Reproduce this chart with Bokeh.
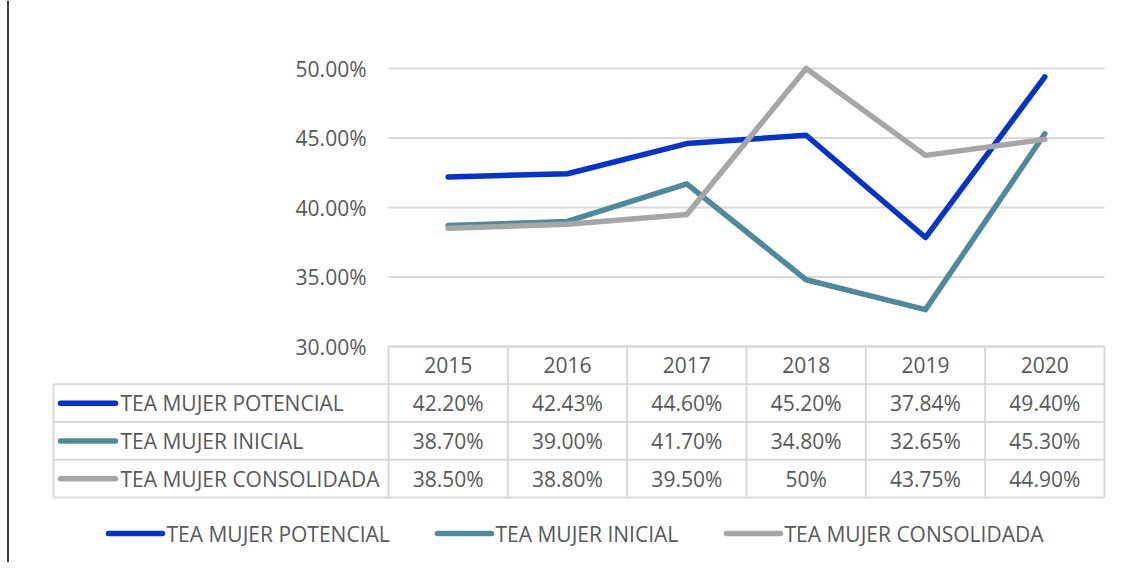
from bokeh.plotting import figure
from bokeh.models import Range1d
from bokeh.embed import file_html
from bokeh.resources import INLINE
from bokeh.core.properties import value

# ---------------- data ----------------
years = ["2015", "2016", "2017", "2018", "2019", "2020"]
series_names = ["TEA MUJER POTENCIAL", "TEA MUJER INICIAL", "TEA MUJER CONSOLIDADA"]
potencial = [42.20, 42.43, 44.60, 45.20, 37.84, 49.40]
inicial = [38.70, 39.00, 41.70, 34.80, 32.65, 45.30]
consolidada = [38.50, 38.80, 39.50, 50.0, 43.75, 44.90]
# cells written without decimals in the source table: (series index, year index)
integer_cells = [(2, 3)]
y_ticks = [30, 35, 40, 45, 50]
colors = ["#0433CC", "#4E8A9A", "#A6A6A6"]
series = [potencial, inicial, consolidada]

TEXT = "#595959"
GRID = "#D9D9D9"
FONT = value("Open Sans")
FS = "21px"

# ---------------- geometry helpers (screen px -> data units) ----------------
W, H = 1120, 562
X0_PX, COL_PX = 388.0, 119.33
Y30_PX, PCT_PX = 346.0, 13.9


def xi(px):
    return (px - X0_PX) / COL_PX - 0.5


def yp(py):
    return 30 - (py - Y30_PX) / PCT_PX


def fmt(si, yi, v):
    return f"{v:.0f}%" if (si, yi) in integer_cells else f"{v:.2f}%"


p = figure(width=W, height=H,
           x_range=Range1d(xi(0), xi(W)), y_range=Range1d(yp(H), yp(0)),
           output_backend="svg", toolbar_location=None,
           x_axis_location=None, y_axis_location=None,
           min_border=0, outline_line_color=None,
           background_fill_color="white", border_fill_color="white")
p.grid.visible = False

xs = list(range(len(years)))

# left dark border line
p.segment(x0=[xi(7.5)], y0=[yp(H)], x1=[xi(7.5)], y1=[yp(0)], line_color="#404040", line_width=2)

# gridlines
p.segment(x0=[-0.5] * len(y_ticks), y0=y_ticks, x1=[len(years) - 0.5] * len(y_ticks), y1=y_ticks,
          line_color=GRID, line_width=2)

# y tick labels
p.text(x=[xi(366)] * len(y_ticks), y=y_ticks, text=[f"{t:.2f}%" for t in y_ticks],
       text_align="right", text_baseline="middle", text_font=FONT, text_font_size=FS, text_color=TEXT)

# series lines
for vals, c in zip(series, colors):
    p.line(x=xs, y=vals, line_color=c, line_width=5.5, line_cap="round", line_join="round")

# ---------------- data table ----------------
rows_px = [346, 383.75, 421.5, 459.25, 497]
ry = [yp(r) for r in rows_px]
left = xi(53)
right = len(years) - 0.5
hx0 = [-0.5] + [left] * 4
p.segment(x0=hx0, y0=ry, x1=[right] * 5, y1=ry, line_color=GRID, line_width=2)
vx = [k - 0.5 for k in range(len(years) + 1)]
p.segment(x0=vx, y0=[ry[0]] * len(vx), x1=vx, y1=[ry[-1]] * len(vx), line_color=GRID, line_width=2)
p.segment(x0=[left], y0=[ry[1]], x1=[left], y1=[ry[-1]], line_color=GRID, line_width=2)

hy = (ry[0] + ry[1]) / 2
p.text(x=xs, y=[hy] * len(xs), text=years, text_align="center", text_baseline="middle",
       text_font=FONT, text_font_size=FS, text_color=TEXT)

for i, (name, vals, c) in enumerate(zip(series_names, series, colors)):
    cy = (ry[i + 1] + ry[i + 2]) / 2
    p.segment(x0=[xi(60)], y0=[cy], x1=[xi(115)], y1=[cy], line_color=c, line_width=5.5, line_cap="round")
    p.text(x=[xi(120)], y=[cy], text=[name], text_align="left", text_baseline="middle",
           text_font=FONT, text_font_size=FS, text_color=TEXT)
    p.text(x=xs, y=[cy] * len(xs), text=[fmt(i, j, v) for j, v in enumerate(vals)],
           text_align="center", text_baseline="middle",
           text_font=FONT, text_font_size=FS, text_color=TEXT)

# ---------------- legend ----------------
ly = yp(533)
leg_line_px = [(108, 162), (437, 491), (726, 780)]
for (a, b), name, c in zip(leg_line_px, series_names, colors):
    p.segment(x0=[xi(a)], y0=[ly], x1=[xi(b)], y1=[ly], line_color=c, line_width=5.5, line_cap="round")
    p.text(x=[xi(b + 4)], y=[ly], text=[name], text_align="left", text_baseline="middle",
           text_font=FONT, text_font_size=FS, text_color=TEXT)

open("out.html", "w").write(file_html(p, INLINE))
